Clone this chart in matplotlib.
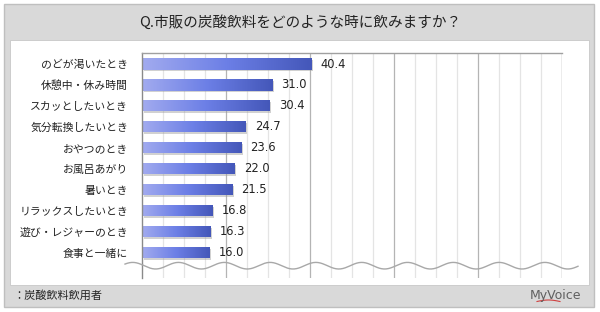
import numpy as np
import matplotlib
matplotlib.use("Agg")
import matplotlib.pyplot as plt
from matplotlib.patches import Rectangle
from matplotlib.colors import LinearSegmentedColormap
import matplotlib.transforms as mtransforms

plt.rcParams['font.family'] = ['Noto Sans CJK JP', 'DejaVu Sans']

title = "Q.市販の炭酸飲料をどのような時に飲みますか？"
categories = ["のどが渇いたとき", "休憩中・休み時間", "スカッとしたいとき", "気分転換したいとき",
              "おやつのとき", "お風呂あがり", "暑いとき", "リラックスしたいとき",
              "遊び・レジャーのとき", "食事と一緒に"]
values = [40.4, 31.0, 30.4, 24.7, 23.6, 22.0, 21.5, 16.8, 16.3, 16.0]
footnote = "：炭酸飲料飲用者"
brand = "MyVoice"

W, H = 600, 312
fig = plt.figure(figsize=(W / 100, H / 100), dpi=100)
fig.patch.set_facecolor("white")

def fx(x):
    return x / W

def fy(y):
    return 1 - y / H

# outer gray frame
fig.add_artist(Rectangle((fx(4), fy(307)), fx(594) - fx(4), fy(4) - fy(307),
                         transform=fig.transFigure, facecolor="#d9d9d9",
                         edgecolor="#bfbfbf", lw=1.0, zorder=0))
# inner white panel
fig.add_artist(Rectangle((fx(10), fy(285)), fx(589) - fx(10), fy(40) - fy(285),
                         transform=fig.transFigure, facecolor="white",
                         edgecolor="#c8c8c8", lw=0.6, zorder=0))

fig.text(0.5, fy(22), title, ha="center", va="center", fontsize=10.5, color="#222222")
fig.text(fx(13), fy(296), footnote, ha="left", va="center", fontsize=8, color="#222222")
fig.text(fx(581), fy(295), brand, ha="right", va="center", fontsize=9,
         color="#5f5f5f", family=["Liberation Sans Narrow", "DejaVu Sans"])
# red swoosh under the logo
sx = np.linspace(537, 560, 40)
sy = 301.5 - 1.5 * np.sin(np.pi * (sx - 537) / 23)
fig.add_artist(plt.Line2D(fx(sx), fy(sy), transform=fig.transFigure,
                          color="#d04040", lw=0.8))

# axes
ax_l, ax_r, ax_t, ax_b = 142, 562, 53, 278
ax = fig.add_axes([fx(ax_l), fy(ax_b), fx(ax_r) - fx(ax_l), fy(ax_t) - fy(ax_b)])
ax.set_facecolor("none")
y0_px, step_px = 64.0, 20.97

for s in ["bottom", "right"]:
    ax.spines[s].set_visible(False)
ax.spines["left"].set_color("#8a8a8a")
ax.spines["top"].set_color("#a0a0a0")
ax.spines["left"].set_linewidth(1.0)
ax.spines["top"].set_linewidth(1.0)

for v in np.arange(5, 100, 5):
    major = (v % 20 == 0)
    ax.axvline(v, color="#b4b4b4" if major else "#e4e4e4", lw=0.9, zorder=0.5)
ax.axvline(100, color="#a0a0a0", lw=1.0, zorder=0.5)

ax.set_xticks([])
ax.set_yticks(range(len(categories)))
ax.set_yticklabels(categories, fontsize=7.8, color="#222222")
ax.tick_params(axis="y", length=0, pad=10)

ypos = np.arange(len(categories))
bh = 0.53
cmap = LinearSegmentedColormap.from_list("g", ["#a2abef", "#6c7fe6", "#4457b9"])
grad = np.linspace(0, 1, 256).reshape(1, -1)

shadow_tr = mtransforms.offset_copy(ax.transData, fig=fig, x=1.5, y=-1.5, units="dots")
ax.barh(ypos, values, height=bh, color="#9a9a9a", alpha=0.45, transform=shadow_tr,
        zorder=1, lw=0)
bars = ax.barh(ypos, values, height=bh, color="none", lw=0, zorder=2)
for b, yv, v in zip(bars, ypos, values):
    im = ax.imshow(grad, cmap=cmap, aspect="auto", interpolation="bilinear",
                   extent=[0, v, yv + bh / 2, yv - bh / 2], zorder=2)
    im.set_clip_path(b)
    ax.text(v + 2.2, yv, f"{v:.1f}", va="center", ha="left", fontsize=8.3,
            color="#222222", family=["DejaVu Sans"])

ax.set_xlim(0, 100)
ax.set_ylim((ax_b - y0_px) / step_px, (ax_t - y0_px) / step_px)

# wavy break line
xp = np.linspace(125, 578, 400)
yp = 265.7 - 3.3 * np.cos(2 * np.pi * (xp - 361.7) / 45.8)
xd = (xp - ax_l) / (ax_r - ax_l) * 100
yd = (yp - y0_px) / step_px
ax.plot(xd, yd, color="#a8a8a8", lw=1.0, clip_on=False, zorder=3)

fig.savefig("out.png", dpi=100, facecolor="white")
